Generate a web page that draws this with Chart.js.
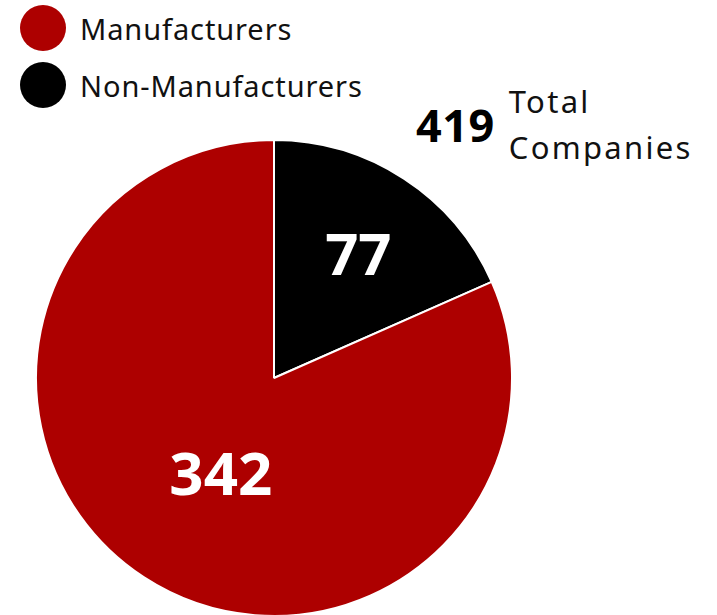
<!DOCTYPE html>
<html>
<head>
<meta charset="utf-8">
<script src="https://cdn.jsdelivr.net/npm/chart.js@4"></script>
<style>
  html, body { margin: 0; padding: 0; background: #fff; width: 717px; height: 615px; overflow: hidden; font-family: "Noto Sans", sans-serif; }
  #wrap { position: absolute; left: 35px; top: 139px; width: 478px; height: 478px; }
  .legend { position: absolute; left: 20px; display: flex; align-items: center; font-size: 29px; letter-spacing: 0.9px; color: #111; }
  .legend span.dot { width: 46px; height: 46px; border-radius: 50%; display: inline-block; margin-right: 14px; }
  .total { position: absolute; left: 416px; top: 78px; display: flex; align-items: center; }
  .total b { font-size: 45px; font-weight: 700; color: #000; margin-right: 14px; letter-spacing: 0.5px; }
  .total div { font-size: 31px; line-height: 46px; color: #111; letter-spacing: 2.3px; }
</style>
</head>
<body>
<div class="legend" id="leg0" style="top:5px"><span class="dot" style="background:#ad0000"></span>Manufacturers</div>
<div class="legend" id="leg1" style="top:62px"><span class="dot" style="background:#000"></span>Non-Manufacturers</div>
<div class="total"><b id="totalNum"></b><div>Total<br>Companies</div></div>
<div id="wrap"><canvas id="pieChart"></canvas></div>
<script>
// slice order follows the reference: black slice starts at 12 o'clock
const categories = ['Non-Manufacturers', 'Manufacturers'];
const companyCounts = [77, 342];
const sliceColors = ['#000000', '#ad0000'];

document.getElementById('totalNum').textContent = companyCounts.reduce((a, b) => a + b, 0);

// white numbers inside each slice
const sliceLabels = {
    id: 'sliceLabels',
    afterDatasetsDraw(chart, args, opts) {
        const ctx = chart.ctx;
        const meta = chart.getDatasetMeta(0);
        meta.data.forEach((arc, i) => {
            const p = arc.getProps(['x', 'y', 'startAngle', 'endAngle', 'outerRadius'], true);
            const mid = (p.startAngle + p.endAngle) / 2 + opts.angleShift[i];
            const r = p.outerRadius * opts.radiusFactor[i];
            const size = opts.fontSize[i];
            ctx.save();
            ctx.fillStyle = '#fff';
            ctx.font = '700 ' + size + 'px "Noto Sans", sans-serif';
            ctx.textAlign = 'center';
            ctx.textBaseline = 'alphabetic';
            // centre the digits' cap height on the point
            ctx.fillText(String(chart.data.datasets[0].data[i]),
                p.x + Math.cos(mid) * r,
                p.y + Math.sin(mid) * r + size * 0.36);
            ctx.restore();
        });
    }
};

new Chart(document.getElementById('pieChart').getContext('2d'), {
    type: 'pie',
    data: {
        labels: categories,
        datasets: [{
            data: companyCounts,
            backgroundColor: sliceColors,
            borderColor: '#ffffff',
            borderWidth: 2
        }]
    },
    options: {
        responsive: true,
        maintainAspectRatio: false,
        animation: false,
        layout: { padding: 0 },
        plugins: {
            legend: { display: false },
            tooltip: { enabled: false },
            sliceLabels: { radiusFactor: [0.63, 0.46], angleShift: [0.02, -0.07], fontSize: [58, 60] }
        }
    },
    plugins: [sliceLabels]
});
</script>
</body>
</html>
